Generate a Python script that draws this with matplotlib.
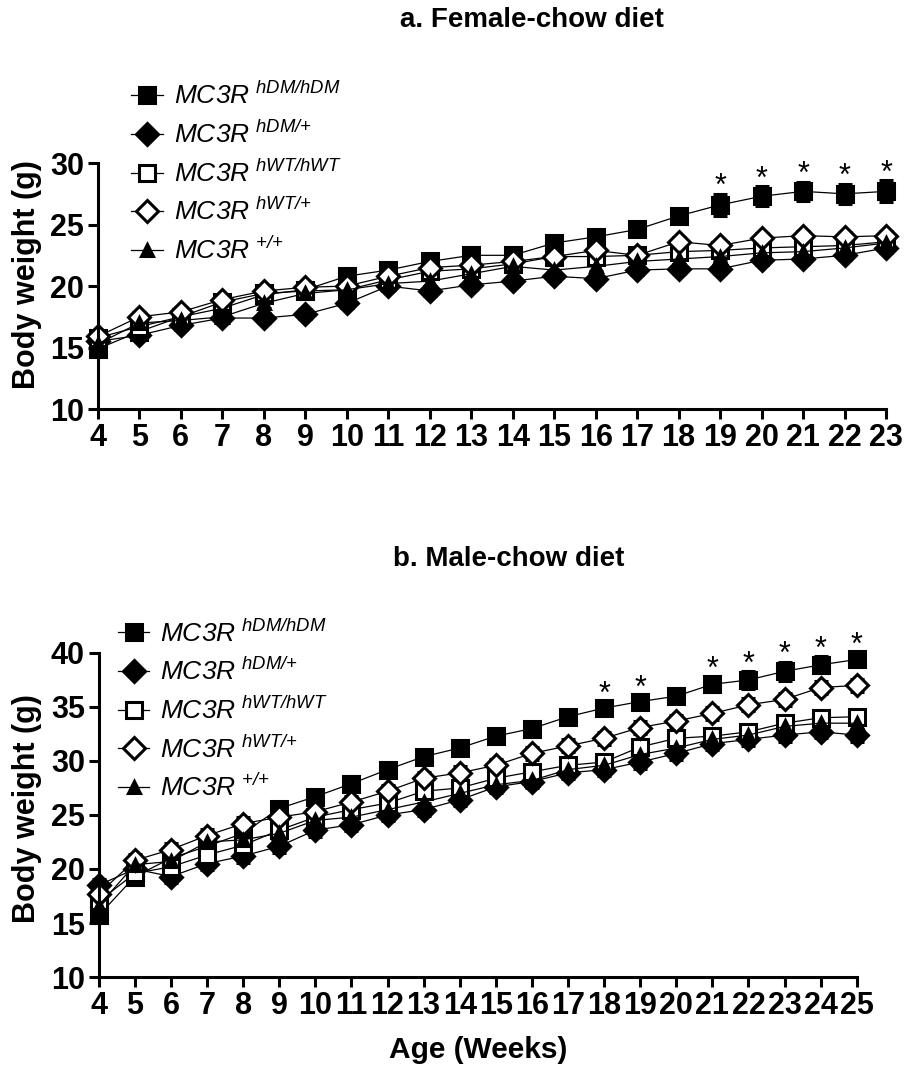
import numpy as np
import matplotlib
matplotlib.use('Agg')
import matplotlib.pyplot as plt

plt.rcParams['font.family'] = ['Liberation Sans', 'DejaVu Sans']
plt.rcParams['mathtext.fontset'] = 'custom'
plt.rcParams['mathtext.it'] = 'Liberation Sans:italic'
plt.rcParams['mathtext.rm'] = 'Liberation Sans:italic'

# genotipos (leyenda)
genotipos = [r'$MC3R^{\ hDM/hDM}$', r'$MC3R^{\ hDM/{+}}$', r'$MC3R^{\ hWT/hWT}$',
             r'$MC3R^{\ hWT/{+}}$', r'$MC3R^{\ {+}/{+}}$']

# a. hembras, semanas 4-23
semanas_h = list(range(4, 24))
h_dm_dm = [14.9, 16.3, 17.5, 18.2, 19.3, 19.7, 20.8, 21.3, 22.0, 22.5, 22.5, 23.5, 24.0, 24.6, 25.7, 26.6, 27.3, 27.7, 27.5, 27.7]
h_dm_wt = [15.5, 16.0, 16.8, 17.4, 17.4, 17.7, 18.6, 20.0, 19.6, 20.1, 20.4, 20.8, 20.6, 21.3, 21.4, 21.4, 22.1, 22.2, 22.5, 23.1]
h_wt_wt = [15.8, 16.7, 17.5, 18.7, 19.4, 19.6, 19.7, 20.5, 21.2, 21.4, 21.8, 22.4, 22.4, 22.5, 22.8, 22.9, 23.1, 23.2, 23.3, 23.6]
h_wt_het = [15.9, 17.5, 17.9, 18.9, 19.6, 19.9, 20.0, 20.8, 21.5, 21.7, 22.0, 22.4, 22.9, 22.5, 23.6, 23.3, 23.9, 24.1, 24.0, 24.1]
h_wt = [15.3, 17.0, 17.2, 17.5, 18.6, 19.4, 19.7, 20.2, 20.4, 21.0, 21.6, 21.3, 21.6, 22.0, 22.2, 22.4, 22.7, 22.8, 23.1, 23.5]
h_err_dm = [0.5, 0.4, 0.5, 0.5, 0.6, 0.5, 0.5, 0.5, 0.5, 0.5, 0.5, 0.5, 0.5, 0.5, 0.6, 0.9, 0.8, 0.8, 0.8, 0.9]
h_err = 0.4
h_sig = [19, 20, 21, 22, 23]

# b. machos, semanas 4-25
semanas_m = list(range(4, 26))
m_dm_dm = [15.7, 19.3, 21.0, 22.1, 23.3, 25.6, 26.7, 27.9, 29.2, 30.4, 31.2, 32.3, 33.0, 34.1, 34.9, 35.5, 36.0, 37.1, 37.5, 38.3, 38.9, 39.4]
m_dm_wt = [18.5, 20.0, 19.3, 20.5, 21.2, 22.1, 23.6, 24.1, 25.0, 25.5, 26.4, 27.6, 28.1, 28.9, 29.2, 29.9, 30.7, 31.6, 32.0, 32.4, 32.7, 32.4]
m_wt_wt = [17.0, 19.6, 20.2, 21.3, 22.2, 23.6, 24.8, 25.5, 26.1, 27.2, 27.5, 28.4, 29.0, 29.6, 29.9, 31.3, 32.1, 32.3, 32.7, 33.5, 34.0, 34.1]
m_wt_het = [17.7, 20.8, 21.8, 23.1, 24.2, 24.8, 25.3, 26.2, 27.2, 28.4, 28.9, 29.6, 30.7, 31.4, 32.1, 33.1, 33.7, 34.4, 35.2, 35.7, 36.8, 37.0]
m_wt = [16.6, 20.4, 20.7, 22.5, 22.7, 23.3, 24.5, 24.8, 25.5, 26.2, 27.0, 27.8, 28.2, 29.2, 29.6, 30.6, 31.2, 32.0, 32.4, 33.2, 33.5, 33.5]
m_err_dm = [0.5, 0.5, 0.5, 0.5, 0.5, 0.5, 0.5, 0.7, 0.5, 0.5, 0.5, 0.5, 0.5, 0.5, 0.6, 0.6, 0.6, 0.7, 0.8, 0.9, 0.8, 0.6]
m_err = 0.6
m_sig = [18, 19, 21, 22, 23, 24, 25]

estilos = [dict(marker='s', mfc='black', ms=12),
           dict(marker='D', mfc='black', ms=11),
           dict(marker='s', mfc='white', ms=11),
           dict(marker='D', mfc='white', ms=11),
           dict(marker='^', mfc='black', ms=8)]


def panel(ax, x, series, errs, sig, ymax):
    handles = []
    for y, e, st in zip(series, errs, estilos):
        eb = ax.errorbar(x, y, yerr=e, color='black', lw=0.9, mec='black', mew=2.2,
                         capsize=5, capthick=1.3, elinewidth=1.3, clip_on=False, **st)
        handles.append(eb.lines[0])
    # asteriscos sobre la barra de error superior de hDM/hDM
    top = np.array(series[0]) + np.array(errs[0])
    for s in sig:
        i = x.index(s)
        ax.annotate('*', (s, top[i]), xytext=(0, -1), textcoords='offset points',
                    ha='center', va='baseline', fontsize=22)
    ax.set_xlim(x[0], x[-1])
    ax.set_ylim(10, ymax)
    ax.set_xticks(x)
    ax.set_yticks(np.arange(10, ymax + 1, 5))
    ax.spines[['top', 'right']].set_visible(False)
    ax.spines[['left', 'bottom']].set_linewidth(2.2)
    ax.tick_params(width=2.2, length=7, labelsize=22, pad=3)
    for t in ax.get_xticklabels() + ax.get_yticklabels():
        t.set_fontweight('bold')
    ax.set_ylabel('Body weight (g)', fontsize=22, fontweight='bold')
    return handles


fig = plt.figure(figsize=(9.06, 10.68), dpi=100)
ax1 = fig.add_axes([0.108, 0.617, 0.870, 0.2303])
ax2 = fig.add_axes([0.109, 0.0852, 0.8366, 0.3034])

hs1 = panel(ax1, semanas_h, [h_dm_dm, h_dm_wt, h_wt_wt, h_wt_het, h_wt],
            [h_err_dm, h_err, h_err, h_err, h_err], h_sig, 30)
hs2 = panel(ax2, semanas_m, [m_dm_dm, m_dm_wt, m_wt_wt, m_wt_het, m_wt],
            [m_err_dm, m_err, m_err, m_err, m_err], m_sig, 40)

ax1.yaxis.set_label_coords(-0.071, 0.545)
ax2.yaxis.set_label_coords(-0.075, 0.52)
ax2.set_xlabel('Age (Weeks)', fontsize=21.5, fontweight='bold', labelpad=11)

for ax, hs, xy in [(ax1, hs1, (0.145, 0.923)), (ax2, hs2, (0.13, 0.42))]:
    ax.legend(hs, genotipos, loc='upper left', bbox_to_anchor=xy,
              bbox_transform=fig.transFigure, frameon=False, fontsize=19,
              handlelength=1.2, handletextpad=0.4, labelspacing=0.44,
              borderpad=0, borderaxespad=0, numpoints=1)

fig.text(0.587, 0.981, 'a. Female-chow diet', ha='center', va='center',
         fontsize=20, fontweight='bold')
fig.text(0.561, 0.477, 'b. Male-chow diet', ha='center', va='center',
         fontsize=20, fontweight='bold')

fig.savefig('out.png', dpi=100)
